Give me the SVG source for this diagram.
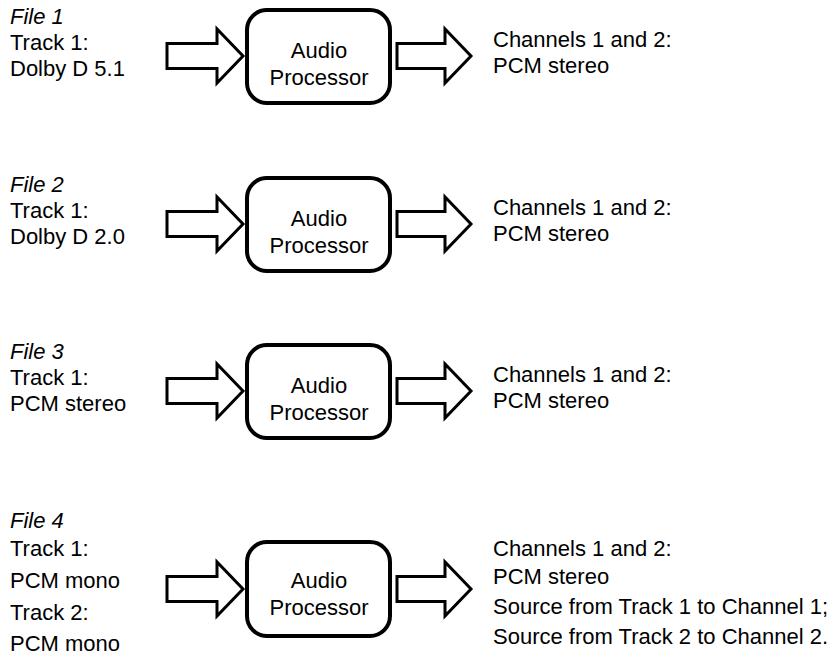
<svg xmlns="http://www.w3.org/2000/svg" xmlns:xlink="http://www.w3.org/1999/xlink" width="839" height="664" viewBox="0 0 839 664">
<style>
text { font-family: "Liberation Sans", Arial, sans-serif; font-size: 22px; fill: #000; }
.it { font-style: italic; }
.mid { text-anchor: middle; }
.box { fill: #fff; stroke: #000; stroke-width: 4; }
.arr { fill: #fff; stroke: #000; stroke-width: 3; stroke-linejoin: miter; }
</style>
<defs>
<polygon id="arrIn" class="arr" points="0,-12.5 50,-12.5 50,-27 76,0 50,27 50,12.5 0,12.5"/>
<polygon id="arrOut" class="arr" points="0,-12.5 48,-12.5 48,-27 74,0 48,27 48,12.5 0,12.5"/>
</defs>
<rect width="839" height="664" fill="#fff"/>
<g id="connectors">
<use xlink:href="#arrIn" href="#arrIn" transform="translate(167,56)"/>
<use xlink:href="#arrOut" href="#arrOut" transform="translate(397,56)"/>
<use xlink:href="#arrIn" href="#arrIn" transform="translate(167,224)"/>
<use xlink:href="#arrOut" href="#arrOut" transform="translate(397,224)"/>
<use xlink:href="#arrIn" href="#arrIn" transform="translate(167,391)"/>
<use xlink:href="#arrOut" href="#arrOut" transform="translate(397,391)"/>
<use xlink:href="#arrIn" href="#arrIn" transform="translate(167,589)"/>
<use xlink:href="#arrOut" href="#arrOut" transform="translate(397,589)"/>
</g>
<g id="file1">
<text x="10" y="24" class="it">File 1</text>
<text x="10" y="50">Track 1:</text>
<text x="10" y="76">Dolby D 5.1</text>
</g>
<g id="proc1">
<rect class="box" x="247" y="10" width="143" height="93" rx="20"/>
<text x="319" y="58" class="mid">Audio</text>
<text x="319" y="85" class="mid">Processor</text>
</g>
<g id="out1">
<text x="493" y="47">Channels 1 and 2:</text>
<text x="493" y="73">PCM stereo</text>
</g>
<g id="file2">
<text x="10" y="192" class="it">File 2</text>
<text x="10" y="218">Track 1:</text>
<text x="10" y="244">Dolby D 2.0</text>
</g>
<g id="proc2">
<rect class="box" x="247" y="178" width="143" height="93" rx="20"/>
<text x="319" y="226" class="mid">Audio</text>
<text x="319" y="253" class="mid">Processor</text>
</g>
<g id="out2">
<text x="493" y="215">Channels 1 and 2:</text>
<text x="493" y="241">PCM stereo</text>
</g>
<g id="file3">
<text x="10" y="359" class="it">File 3</text>
<text x="10" y="385">Track 1:</text>
<text x="10" y="411">PCM stereo</text>
</g>
<g id="proc3">
<rect class="box" x="247" y="345" width="143" height="93" rx="20"/>
<text x="319" y="393" class="mid">Audio</text>
<text x="319" y="420" class="mid">Processor</text>
</g>
<g id="out3">
<text x="493" y="382">Channels 1 and 2:</text>
<text x="493" y="408">PCM stereo</text>
</g>
<g id="file4">
<text x="10" y="528" class="it">File 4</text>
<text x="10" y="556">Track 1:</text>
<text x="10" y="588">PCM mono</text>
<text x="10" y="620">Track 2:</text>
<text x="10" y="651">PCM mono</text>
</g>
<g id="proc4">
<rect class="box" x="247" y="542" width="143" height="94" rx="20"/>
<text x="319" y="588" class="mid">Audio</text>
<text x="319" y="615" class="mid">Processor</text>
</g>
<g id="out4">
<text x="493" y="556">Channels 1 and 2:</text>
<text x="493" y="584">PCM stereo</text>
<text x="493" y="614">Source from Track 1 to Channel 1;</text>
<text x="493" y="644">Source from Track 2 to Channel 2.</text>
</g>
</svg>
